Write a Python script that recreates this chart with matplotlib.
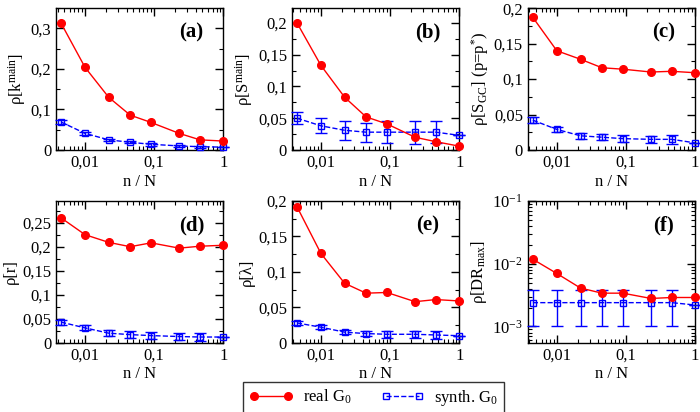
import matplotlib
matplotlib.use("Agg")
import matplotlib.pyplot as plt
from matplotlib.lines import Line2D
from matplotlib.ticker import FixedLocator, FixedFormatter, MultipleLocator, LogLocator, NullFormatter

plt.rcParams["font.family"] = ["Liberation Serif", "DejaVu Serif"]
plt.rcParams["mathtext.fontset"] = "custom"
plt.rcParams["mathtext.rm"] = "Liberation Serif"
plt.rcParams["mathtext.it"] = "Liberation Serif:italic"
plt.rcParams["mathtext.bf"] = "Liberation Serif:bold"

# fraction of nodes n/N
frac = [0.0045, 0.01, 0.022, 0.045, 0.09, 0.23, 0.46, 1.0]

# (a) rho[k_main]
real_a = [0.313, 0.204, 0.130, 0.086, 0.068, 0.041, 0.025, 0.022]
syn_a = [0.069, 0.041, 0.025, 0.019, 0.014, 0.010, 0.008, 0.007]
err_a = [0.006, 0.004, 0.003, 0.003, 0.003, 0.003, 0.003, 0.0]

# (b) rho[S_main]
real_b = [0.200, 0.133, 0.083, 0.052, 0.041, 0.020, 0.013, 0.006]
syn_b = [0.050, 0.038, 0.031, 0.028, 0.028, 0.028, 0.028, 0.023]
err_b = [0.0095, 0.012, 0.015, 0.015, 0.017, 0.018, 0.017, 0.0]

# (c) rho[S_GC](p=p*)
real_c = [0.187, 0.140, 0.128, 0.116, 0.114, 0.110, 0.111, 0.109]
syn_c = [0.042, 0.029, 0.020, 0.018, 0.016, 0.015, 0.015, 0.010]
err_c = [0.004, 0.004, 0.004, 0.004, 0.005, 0.005, 0.006, 0.0]

# (d) rho[r]
real_d = [0.260, 0.225, 0.209, 0.200, 0.208, 0.197, 0.201, 0.203]
syn_d = [0.043, 0.031, 0.020, 0.017, 0.015, 0.013, 0.012, 0.012]
err_d = [0.005, 0.005, 0.006, 0.007, 0.008, 0.008, 0.009, 0.0]

# (e) rho[lambda]
real_e = [0.192, 0.126, 0.084, 0.070, 0.071, 0.058, 0.061, 0.059]
syn_e = [0.028, 0.022, 0.015, 0.013, 0.012, 0.012, 0.011, 0.010]
err_e = [0.003, 0.003, 0.003, 0.004, 0.005, 0.005, 0.005, 0.0]

# (f) rho[DR_max]
real_f = [0.0118, 0.0070, 0.0041, 0.0034, 0.0034, 0.0028, 0.0029, 0.0029]
syn_f = [0.0024, 0.0024, 0.0024, 0.0024, 0.0024, 0.0024, 0.0024, 0.0022]
err_f = [0.0014, 0.0014, 0.0014, 0.0014, 0.0014, 0.0014, 0.0014, 0.0]

panels = [
    ("(a)", r"ρ[k$^{\mathrm{main}}$]", real_a, syn_a, err_a, (0, 0.35), 0.1, 0.05, ["0", "0,1", "0,2", "0,3"]),
    ("(b)", r"ρ[S$^{\mathrm{main}}$]", real_b, syn_b, err_b, (0, 0.223), 0.05, 0.025, ["0", "0,05", "0,1", "0,15", "0,2"]),
    ("(c)", r"ρ[S$_{\mathrm{GC}}$] (p=p$^{*}$)", real_c, syn_c, err_c, (0, 0.2), 0.05, 0.025, ["0", "0,05", "0,1", "0,15", "0,2"]),
    ("(d)", r"ρ[r]", real_d, syn_d, err_d, (0, 0.295), 0.05, 0.025, ["0", "0,05", "0,1", "0,15", "0,2", "0,25"]),
    ("(e)", r"ρ[λ]", real_e, syn_e, err_e, (0, 0.2), 0.05, 0.025, ["0", "0,05", "0,1", "0,15", "0,2"]),
    ("(f)", r"ρ[DR$_{\mathrm{max}}$]", real_f, syn_f, err_f, (5.5e-4, 0.1), None, None, None),
]

RED = "#ff0000"
BLUE = "#0000ff"

fig = plt.figure(figsize=(7, 4.12), dpi=100)
lefts = [0.080, 0.417, 0.754]
bottoms = [0.636, 0.168]
w, h = 0.239, 0.344

for i, (tag, ylab, real, syn, err, ylim, major, minor, ylabels) in enumerate(panels):
    ax = fig.add_axes([lefts[i % 3], bottoms[i // 3], w, h])
    ax.set_xscale("log")
    ax.errorbar(frac, syn, yerr=err, color=BLUE, ls="--", lw=1.0,
                marker="s", ms=4, mfc="none", mec=BLUE, mew=1.0,
                capsize=4, elinewidth=1.0, capthick=1.0, clip_on=False, zorder=3)
    ax.plot(frac, real, color=RED, lw=1.0, marker="o", ms=5.5,
            clip_on=False, zorder=4)
    ax.set_xlim(0.0038, 1.0)
    ax.set_ylim(*ylim)
    ax.xaxis.set_major_locator(FixedLocator([0.01, 0.1, 1]))
    ax.xaxis.set_major_formatter(FixedFormatter(["0,01", "0,1", "1"]))
    ax.xaxis.set_minor_locator(LogLocator(base=10, subs=range(2, 10)))
    ax.xaxis.set_minor_formatter(NullFormatter())
    if major is not None:
        ticks = [k * major for k in range(len(ylabels))]
        ax.yaxis.set_major_locator(FixedLocator(ticks))
        ax.yaxis.set_major_formatter(FixedFormatter(ylabels))
        ax.yaxis.set_minor_locator(MultipleLocator(minor))
    else:
        ax.set_yscale("log")
        ax.set_ylim(*ylim)
        ax.yaxis.set_major_locator(LogLocator(base=10))
        ax.yaxis.set_minor_locator(LogLocator(base=10, subs=range(2, 10)))
        ax.yaxis.set_minor_formatter(NullFormatter())
    ax.tick_params(which="both", direction="in", top=True, right=True, labelsize=12)
    ax.tick_params(which="major", length=6, width=1.0)
    ax.tick_params(which="minor", length=3, width=0.8)
    for s in ax.spines.values():
        s.set_linewidth(1.0)
    ax.set_xlabel("n / N", fontsize=12, labelpad=2)
    ax.set_ylabel(ylab, fontsize=12, labelpad=2)
    ax.text(0.81, 0.83, tag, transform=ax.transAxes, fontsize=15,
            fontweight="bold", ha="center", va="center")

handles = [
    Line2D([], [], color=RED, lw=1.0, marker="o", ms=5.5),
    Line2D([], [], color=BLUE, lw=1.0, ls="--", marker="s", ms=4, mfc="none", mew=1.0),
]
labels = [r"real G$_0$", r"synth. G$_0$"]
leg = fig.legend(handles, labels, loc="center", bbox_to_anchor=(0.534, 0.035),
                 ncol=2, fontsize=12, frameon=True, fancybox=False, edgecolor="black",
                 numpoints=2, handlelength=2.6, columnspacing=1.8, borderpad=0.35,
                 handletextpad=0.6)
leg.get_frame().set_linewidth(1.0)

fig.savefig("out.png", dpi=100)
